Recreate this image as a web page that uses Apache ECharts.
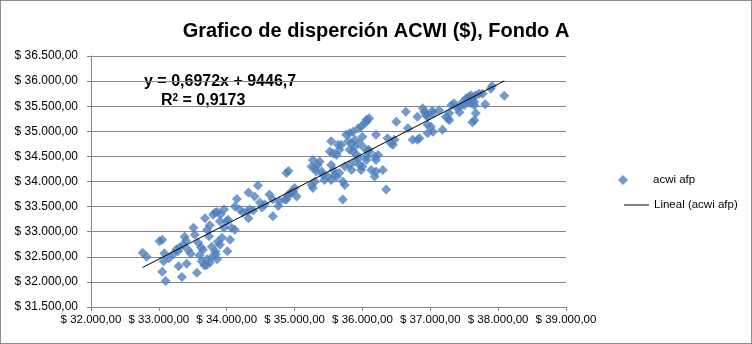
<!DOCTYPE html>
<html>
<head>
<meta charset="utf-8">
<script src="https://cdn.jsdelivr.net/npm/echarts@6/dist/echarts.min.js"></script>
<style>
  html, body { margin: 0; padding: 0; background: #fff; }
  #chart { width: 752px; height: 344px; box-sizing: border-box; border: 1px solid #8c8c8c; }
</style>
</head>
<body>
<div id="chart"></div>
<script>
// acwi (x) vs fondo A (y)
const acwiX = [
  32760, 32820, 33010, 33050, 33080, 33070, 33050, 33100, 33210, 33260, 33290, 33340, 33380, 33400, 33410, 33310, 33280, 33360, 33430,
  33510, 33560, 33580, 33620, 33630, 33670, 33680, 33710, 33740, 33710, 33750, 33700, 33800, 33860, 33910, 33930, 33960, 33840, 33860,
  33830, 34010, 34000, 33960, 33780, 33650, 33530, 33900, 34050, 33150, 33470, 33600, 33780, 33870, 33750,
  34150, 34120, 34190, 34070, 34120, 34240, 34300, 34340, 34390, 34320, 34320, 34410, 34460, 34490, 34520, 34630, 34680, 34680, 34780,
  34880, 34930, 34880, 34910, 34560, 34760, 33900, 34020, 33830, 34900, 34950, 34980, 35000, 35030, 34860,
  35270, 35250, 35300, 35270, 35250, 35300, 35340, 35370, 35400, 35320, 35420, 35440, 35490, 35520, 35540, 35570, 35620, 35660, 35690,
  35640, 35540, 35570, 35590, 35540, 35620, 35660, 35710, 35740, 35760, 35810, 35860, 35790, 35840, 35890, 35810, 35860, 35920, 35890,
  35940, 35980, 36030, 36060, 36000, 35960, 35740, 35810, 35840, 35890, 35940, 35960, 36000, 35980, 35710, 36060, 36090,
  36060, 36100, 36030, 36060, 36100, 36200, 36180, 36230, 36200, 36130, 36180, 36200, 36300, 36350, 36370, 36420, 36450, 36470,
  36500, 36640, 36670, 36740, 36810, 36840, 36810, 36890, 36910, 36940, 37030, 37040, 36940, 36960, 36960, 37010, 37040, 36960,
  37180, 37130, 37230, 37280, 37260, 37280, 37310, 37350, 37430, 37480, 37530, 37570, 37600, 37500, 37550, 37620, 37650, 37670,
  37720, 37770, 37600, 37650, 37670, 37650, 37620, 37810, 37890, 37910, 38090, 37430, 37400
];
const fondoA = [
  32580, 32500, 32810, 32840, 32570, 32410, 32200, 32020, 32550, 32650, 32310, 32100, 32900, 32820, 32360, 32690, 32610, 32740, 32640,
  33080, 32180, 32780, 32690, 32410, 32330, 33270, 33040, 32910, 32450, 32380, 32330, 33340, 33390, 33350, 32880, 33080, 32550, 32450,
  32610, 32610, 33210, 33440, 32490, 32640, 32940, 32740, 32840, 32470, 32560, 32530, 32700, 32800, 33130,
  33650, 33500, 33440, 33080, 33040, 33380, 33400, 33440, 33420, 33270, 33780, 33700, 33920, 33580, 33480, 33740, 33640, 33310, 33600,
  33640, 33770, 34170, 34210, 33540, 33510, 33210, 33240, 33380, 33710, 33770, 33800, 33870, 33700, 33640,
  33870, 33930, 34000, 34430, 34300, 34270, 34330, 34400, 34200, 34200, 34130, 34030, 34100, 34600, 34800, 34560, 34530, 34630, 34730,
  34730, 34330, 34230, 34130, 34030, 34100, 34170, 34000, 33930, 34930, 34960, 34990, 34800, 34760, 34830, 34630, 34600, 34530, 34690,
  35060, 35090, 35160, 35190, 34890, 34760, 34300, 34330, 34230, 34400, 34460, 34330, 34300, 34230, 33640, 34430, 34630,
  35230, 35260, 34660, 34500, 34600, 34930, 34500, 34530, 34430, 34230, 34100, 34200, 34230, 33840, 34860, 34760, 34730, 34830,
  35190, 35390, 35060, 34830, 34830, 34860, 35290, 35460, 35390, 35360, 35410, 35360, 35320, 35290, 35130, 35090, 34990, 34960,
  35030, 35420, 35290, 35360, 35260, 35220, 35520, 35560, 35490, 35590, 35660, 35690, 35720, 35520, 35590, 35660, 35590, 35720,
  35750, 35750, 35560, 35520, 35360, 35220, 35180, 35540, 35850, 35900, 35710, 35380, 35460
];

// trendline as printed on the chart
const slope = 0.6972;
const intercept = 9446.7;
const xTicks = [32000, 33000, 34000, 35000, 36000, 37000, 38000, 39000];
const yTicks = [31500, 32000, 32500, 33000, 33500, 34000, 34500, 35000, 35500, 36000, 36500];

const points = acwiX.map((x, i) => [x, fondoA[i]]);
const xMin = Math.min(...acwiX);
const xMax = Math.max(...acwiX);
const trend = [xMin, xMax].map((x) => [x, slope * x + intercept]);

const money = (v) => {
  const s = Math.round(v).toString().replace(/\B(?=(\d{3})+(?!\d))/g, ".");
  return "$ " + s + ",00";
};

const chart = echarts.init(document.getElementById("chart"));
const font = "'Liberation Sans', Arial, sans-serif";

chart.setOption({
  animation: false,
  textStyle: { fontFamily: font },
  title: {
    text: "Grafico de disperción ACWI ($), Fondo A",
    left: "center",
    top: 15,
    textStyle: { fontFamily: font, fontSize: 20, fontWeight: "bold", color: "#000" },
  },
  grid: { left: 90, right: 185, top: 55, bottom: 36 },
  legend: [
    {
      left: 617,
      top: 173,
      padding: 0,
      itemWidth: 10,
      itemHeight: 10,
      textStyle: { fontFamily: font, fontSize: 11.5, color: "#000", padding: [0, 0, 0, 20] },
      data: [{ name: "acwi afp", icon: "diamond" }],
    },
    {
      left: 623,
      top: 198,
      padding: 0,
      itemWidth: 25,
      itemHeight: 1,
      textStyle: { fontFamily: font, fontSize: 11.5, color: "#000" },
      data: [{ name: "Lineal (acwi afp)", icon: "rect" }],
    },
  ],
  xAxis: {
    type: "value",
    min: xTicks[0],
    max: xTicks[xTicks.length - 1],
    interval: 1000,
    axisLine: { lineStyle: { color: "#868686" } },
    axisTick: { show: true, length: 4, lineStyle: { color: "#868686" } },
    splitLine: { show: false },
    axisLabel: { formatter: money, color: "#000", fontSize: 11.5, margin: 7, fontFamily: font },
  },
  yAxis: {
    type: "value",
    min: yTicks[0],
    max: yTicks[yTicks.length - 1],
    interval: 500,
    axisLine: { show: true, lineStyle: { color: "#868686" } },
    axisTick: { show: true, length: 4, lineStyle: { color: "#868686" } },
    splitLine: { lineStyle: { color: "#868686" } },
    axisLabel: { formatter: money, color: "#000", fontSize: 12, margin: 13, fontFamily: font },
  },
  graphic: [
    {
      type: "text",
      left: 143,
      top: 73,
      style: { text: "y = 0,6972x + 9446,7", font: "bold 16px " + font, fill: "#000" },
    },
    {
      type: "text",
      left: 160,
      top: 92,
      style: {
        text: "R{s|2} = 0,9173",
        font: "bold 16px " + font,
        fill: "#000",
        rich: { s: { fontSize: 10, fontWeight: "bold", verticalAlign: "top", fontFamily: font } },
      },
    },
  ],
  series: [
    {
      name: "acwi afp",
      type: "scatter",
      data: points,
      symbol: "diamond",
      symbolSize: 10,
      itemStyle: { color: "#4f81bd" },
    },
    {
      name: "Lineal (acwi afp)",
      type: "line",
      data: trend,
      symbol: "none",
      lineStyle: { color: "#000", width: 1 },
      itemStyle: { color: "#000" },
    },
  ],
});
</script>
</body>
</html>
